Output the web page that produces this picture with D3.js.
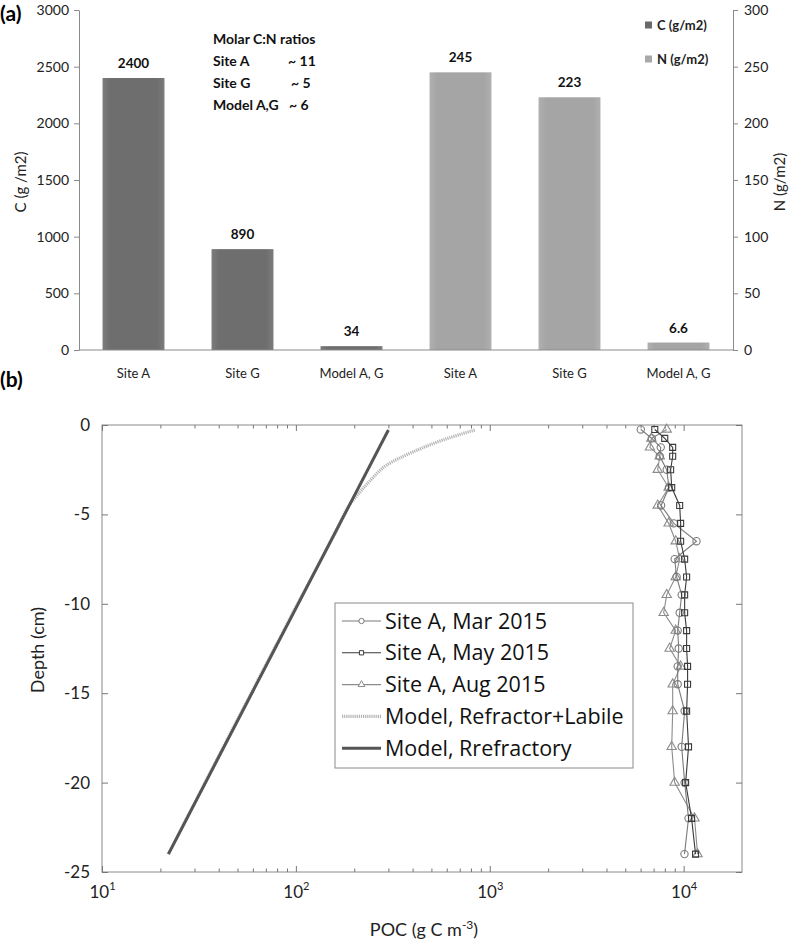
<!DOCTYPE html>
<html>
<head>
<meta charset="utf-8">
<script src="https://cdn.jsdelivr.net/npm/d3@7"></script>
<style>
  body { margin:0; background:#fff; }
  svg { display:block; }
  .cal { font-family: Lato, "Noto Sans", sans-serif; }
</style>
</head>
<body>
<svg id="chart" width="796" height="942"></svg>
<script>
// ---------- Panel (a) data ----------
const barCategories = ["Site A", "Site G", "Model A, G", "Site A", "Site G", "Model A, G"];
const carbonValues = [2400, 890, 34];
const nitrogenValues = [245, 223, 6.6];
const carbonLabels = ["2400", "890", "34"];
const nitrogenLabels = ["245", "223", "6.6"];
const carbonTicks = [0, 500, 1000, 1500, 2000, 2500, 3000];
const nitrogenTicks = [0, 50, 100, 150, 200, 250, 300];
const ratioNames = ["Site A", "Site G", "Model A,G"];
const ratioValues = ["~ 11", "~ 5", "~ 6"];

// ---------- Panel (b) data ----------
const depths = [0.25, 0.75, 1.25, 1.75, 2.5, 3.5, 4.5, 5.5, 6.5, 7.5, 8.5, 9.5, 10.5, 11.5, 12.5, 13.5, 14.5, 16, 18, 20, 22, 24];
const pocMar = [6010, 6850, 7620, 7530, 8180, 8400, 7650, 8900, 11650, 8990, 9200, 9770, 9540, 9320, 9430, 9320, 9320, 10120, 9770, 10120, 10600, 10100];
const pocMay = [7100, 7990, 8780, 8780, 8570, 8680, 9540, 9650, 9650, 10120, 10360, 10120, 10120, 10360, 10360, 10480, 10480, 10360, 10600, 10240, 10990, 11520];
const pocAug = [8180, 6820, 6700, 7530, 7350, 8370, 7350, 8370, 9100, 9540, 9100, 8180, 7890, 9100, 8470, 9650, 8780, 8780, 8680, 8990, 11380, 11800];
const labileDepth = [0.28, 0.84, 1.51, 2.24, 2.96, 3.75, 4.3, 6, 24];
const labilePOC = [837, 573, 401, 294, 249, 214, 194, 160, 22];
const refractoryDepth = [0.28, 24];
const refractoryPOC = [300, 22];
const depthTicks = [0, -5, -10, -15, -20, -25];
const pocMajorTicks = [10, 100, 1000, 10000];
const pocMinorTicks = [20,30,40,50,60,70,80,90,200,300,400,500,600,700,800,900,2000,3000,4000,5000,6000,7000,8000,9000];

const svg = d3.select("#chart");

// =================== PANEL (a) ===================
const aL = 79, aR = 733, aTop = 10, aBase = 350;
const xBand = d3.scaleBand().domain(d3.range(barCategories.length)).range([aL, aR])
  .paddingInner(0.432).paddingOuter(0.216);
const yC = d3.scaleLinear().domain([0, 3000]).range([aBase, aTop]);
const yN = d3.scaleLinear().domain([0, 300]).range([aBase, aTop]);

const defs = svg.append("defs");
function grad(id, edge, mid) {
  const g = defs.append("linearGradient").attr("id", id).attr("x1", "0").attr("x2", "1").attr("y1", "0").attr("y2", "0");
  g.append("stop").attr("offset", "0").attr("stop-color", edge);
  g.append("stop").attr("offset", "0.12").attr("stop-color", mid);
  g.append("stop").attr("offset", "0.88").attr("stop-color", mid);
  g.append("stop").attr("offset", "1").attr("stop-color", edge);
}
grad("gC", "#7c7c7c", "#6e6e6e");
grad("gN", "#b0b0b0", "#a5a5a5");

const barData = carbonValues.map((v, i) => ({ i, v, scale: yC, fill: "url(#gC)", label: carbonLabels[i] }))
  .concat(nitrogenValues.map((v, i) => ({ i: i + 3, v, scale: yN, fill: "url(#gN)", label: nitrogenLabels[i] })));

svg.append("g").selectAll("rect").data(barData).join("rect")
  .attr("x", d => xBand(d.i)).attr("width", xBand.bandwidth())
  .attr("y", d => d.scale(d.v)).attr("height", d => aBase - d.scale(d.v))
  .attr("fill", d => d.fill);

svg.append("g").selectAll("text").data(barData).join("text")
  .attr("class", "cal")
  .attr("x", d => xBand(d.i) + xBand.bandwidth() / 2)
  .attr("y", d => d.scale(d.v) - 10)
  .attr("text-anchor", "middle").attr("font-size", 13.5).attr("font-weight", "bold").attr("fill", "#111")
  .text(d => d.label);

// axes
const plain = d => String(d);
const axL = svg.append("g").attr("transform", `translate(${aL},0)`)
  .call(d3.axisLeft(yC).tickValues(carbonTicks).tickFormat(plain).tickSize(5).tickSizeOuter(0).tickPadding(5));
const axR = svg.append("g").attr("transform", `translate(${aR},0)`)
  .call(d3.axisRight(yN).tickValues(nitrogenTicks).tickFormat(plain).tickSize(5).tickSizeOuter(0).tickPadding(6));
[axL, axR].forEach(ax => {
  ax.select(".domain").attr("stroke", "#8a8a8a");
  ax.selectAll(".tick line").attr("stroke", "#8a8a8a");
  ax.selectAll(".tick text").attr("class", "cal").attr("font-size", 14).attr("fill", "#222");
});
svg.append("line").attr("x1", aL).attr("x2", aR).attr("y1", aBase).attr("y2", aBase).attr("stroke", "#8a8a8a");

// category labels
svg.append("g").selectAll("text").data(barCategories).join("text")
  .attr("class", "cal")
  .attr("x", (d, i) => xBand(i) + xBand.bandwidth() / 2).attr("y", 378)
  .attr("text-anchor", "middle").attr("font-size", 13).attr("fill", "#222").text(d => d);

// axis titles
svg.append("text").attr("class", "cal").attr("transform", "translate(26,182) rotate(-90)")
  .attr("text-anchor", "middle").attr("font-size", 15).attr("fill", "#222").text("C (g /m2)");
svg.append("text").attr("class", "cal").attr("transform", "translate(785,182) rotate(-90)")
  .attr("text-anchor", "middle").attr("font-size", 15).attr("fill", "#222").text("N (g/m2)");

// ratios annotation
svg.append("text").attr("class", "cal").attr("x", 213).attr("y", 44).attr("font-size", 14)
  .attr("font-weight", "bold").attr("fill", "#111").text("Molar C:N ratios");
const ratioY = [66, 88, 110];
const ratioX = [288, 291, 289];
ratioNames.forEach((n, i) => {
  svg.append("text").attr("class", "cal").attr("x", 213).attr("y", ratioY[i]).attr("font-size", 14)
    .attr("font-weight", "bold").attr("fill", "#111").text(n);
  svg.append("text").attr("class", "cal").attr("x", ratioX[i]).attr("y", ratioY[i]).attr("font-size", 14)
    .attr("font-weight", "bold").attr("fill", "#111").text(ratioValues[i]);
});

// legend top-right
[["C (g/m2)", "#6a6a6a", 25], ["N (g/m2)", "#a8a8a8", 59]].forEach(([t, c, y]) => {
  svg.append("rect").attr("x", 645).attr("y", y - 3.5).attr("width", 7).attr("height", 7).attr("fill", c);
  svg.append("text").attr("class", "cal").attr("x", 657).attr("y", y + 4.5).attr("font-size", 13)
    .attr("font-weight", "bold").attr("fill", "#222").text(t);
});

svg.append("text").attr("x", 0).attr("y", 21).attr("font-family", "Lato, sans-serif")
  .attr("font-size", 21).attr("font-weight", "bold").text("(a)");

// =================== PANEL (b) ===================
const bL = 102, bR = 742, bT = 425, bB = 872;
const xLog = d3.scaleLog().domain([10, 20000]).range([bL, bR]);
const yDepth = d3.scaleLinear().domain([-25, 0]).range([bB, bT]);

svg.append("text").attr("x", 0).attr("y", 387).attr("font-family", "Lato, sans-serif")
  .attr("font-size", 21).attr("font-weight", "bold").text("(b)");

// box
svg.append("rect").attr("x", bL).attr("y", bT).attr("width", bR - bL).attr("height", bB - bT)
  .attr("fill", "none").attr("stroke", "#8a8a8a").attr("stroke-width", 1);

function styleAxis(ax) {
  ax.select(".domain").remove();
  ax.selectAll(".tick line").attr("stroke", "#777");
}
const xMajB = svg.append("g").attr("transform", `translate(0,${bB})`)
  .call(d3.axisBottom(xLog).tickValues(pocMajorTicks).tickSize(-6).tickPadding(14).tickFormat(() => ""));
styleAxis(xMajB);
xMajB.selectAll(".tick text").attr("font-family", "Lato, sans-serif").attr("font-size", 17).attr("fill", "#222")
  .each(function (d) {
    const t = d3.select(this);
    t.append("tspan").text("10");
    t.append("tspan").attr("dy", -8).attr("font-size", 11).text(Math.round(Math.log10(d)));
  });
const xMinB = svg.append("g").attr("transform", `translate(0,${bB})`)
  .call(d3.axisBottom(xLog).tickValues(pocMinorTicks).tickSize(-3.5).tickFormat(() => ""));
styleAxis(xMinB);
const xMajT = svg.append("g").attr("transform", `translate(0,${bT})`)
  .call(d3.axisTop(xLog).tickValues(pocMajorTicks).tickSize(-6).tickFormat(() => ""));
styleAxis(xMajT);
const xMinT = svg.append("g").attr("transform", `translate(0,${bT})`)
  .call(d3.axisTop(xLog).tickValues(pocMinorTicks).tickSize(-3.5).tickFormat(() => ""));
styleAxis(xMinT);

const yAxL = svg.append("g").attr("transform", `translate(${bL},0)`)
  .call(d3.axisLeft(yDepth).tickValues(depthTicks).tickSize(-6).tickPadding(12).tickFormat(plain));
styleAxis(yAxL);
yAxL.selectAll(".tick text").attr("font-family", "Lato, sans-serif").attr("font-size", 17).attr("fill", "#222");
const yAxR = svg.append("g").attr("transform", `translate(${bR},0)`)
  .call(d3.axisRight(yDepth).tickValues(depthTicks).tickSize(-6).tickFormat(() => ""));
styleAxis(yAxR);

// titles
svg.append("text").attr("transform", "translate(44,650) rotate(-90)").attr("text-anchor", "middle")
  .attr("font-family", "Lato, sans-serif").attr("font-size", 18).attr("fill", "#222").text("Depth (cm)");
const xt = svg.append("text").attr("x", 424).attr("y", 936).attr("text-anchor", "middle")
  .attr("font-family", "Lato, sans-serif").attr("font-size", 18).attr("fill", "#222");
xt.append("tspan").text("POC (g C m");
xt.append("tspan").attr("dy", -7).attr("font-size", 12).text("-3");
xt.append("tspan").attr("dy", 7).text(")");

// model lines
const lineGen = d3.line().x(d => xLog(d[1])).y(d => yDepth(-d[0]));
svg.append("path").datum(labileDepth.map((z, i) => [z, labilePOC[i]]))
  .attr("d", lineGen.curve(d3.curveMonotoneY)).attr("fill", "none")
  .attr("stroke", "#b4b4b4").attr("stroke-width", 3.2).attr("stroke-dasharray", "1.2,0.9");
svg.append("path").datum(refractoryDepth.map((z, i) => [z, refractoryPOC[i]]))
  .attr("d", d3.line().x(d => xLog(d[1])).y(d => yDepth(-d[0]))).attr("fill", "none")
  .attr("stroke", "#555").attr("stroke-width", 3);

// observed series
const series = [
  { name: "Site A, Aug 2015", vals: pocAug, color: "#8c8c8c", sym: d3.symbolTriangle, size: 38 },
  { name: "Site A, Mar 2015", vals: pocMar, color: "#7a7a7a", sym: d3.symbolCircle, size: 42 },
  { name: "Site A, May 2015", vals: pocMay, color: "#3a3a3a", sym: d3.symbolSquare, size: 36 }
];
series.forEach(s => {
  const pts = depths.map((z, i) => [z, s.vals[i]]);
  svg.append("path").datum(pts).attr("d", d3.line().x(d => xLog(d[1])).y(d => yDepth(-d[0])))
    .attr("fill", "none").attr("stroke", s.color).attr("stroke-width", 1.1);
  svg.append("g").selectAll("path").data(pts).join("path")
    .attr("transform", d => `translate(${xLog(d[1])},${yDepth(-d[0])})`)
    .attr("d", d3.symbol().type(s.sym).size(s.size))
    .attr("fill", "none").attr("stroke", s.color).attr("stroke-width", 1.1);
});

// legend
const lgX = 335, lgY = 603, lgW = 298, lgH = 165;
svg.append("rect").attr("x", lgX).attr("y", lgY).attr("width", lgW).attr("height", lgH)
  .attr("fill", "#fff").attr("stroke", "#8a8a8a");
const legendItems = [
  { name: "Site A, Mar 2015", color: "#7a7a7a", sym: d3.symbolCircle, size: 22, w: 1.1 },
  { name: "Site A, May 2015", color: "#3a3a3a", sym: d3.symbolSquare, size: 18, w: 1.1 },
  { name: "Site A, Aug 2015", color: "#8c8c8c", sym: d3.symbolTriangle, size: 20, w: 1.1 },
  { name: "Model, Refractor+Labile", color: "#b4b4b4", dash: "1.2,0.9", w: 3.2 },
  { name: "Model, Rrefractory", color: "#555", w: 3 }
];
legendItems.forEach((it, i) => {
  const y = 621 + i * 31.8;
  svg.append("line").attr("x1", 342).attr("x2", 381).attr("y1", y).attr("y2", y)
    .attr("stroke", it.color).attr("stroke-width", it.w).attr("stroke-dasharray", it.dash || null);
  if (it.sym) {
    svg.append("path").attr("transform", `translate(361.5,${y})`)
      .attr("d", d3.symbol().type(it.sym).size(it.size)).attr("fill", "#fff").attr("stroke", it.color);
  }
  svg.append("text").attr("x", 385).attr("y", y + 7.5).attr("font-family", "'Open Sans', sans-serif")
    .attr("font-size", 21.5).attr("fill", "#111").text(it.name);
});
</script>
</body>
</html>
